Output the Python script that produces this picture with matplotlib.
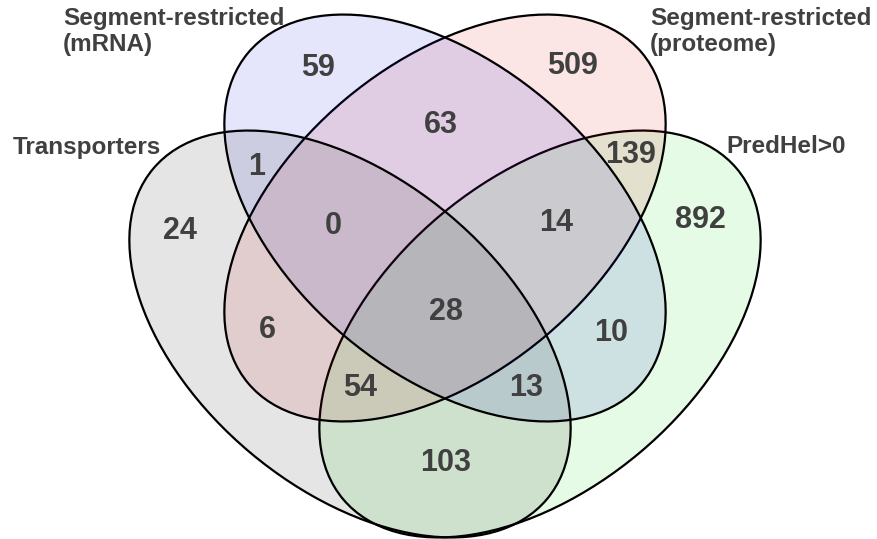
import matplotlib
matplotlib.use("Agg")

import matplotlib.pyplot as plt
from matplotlib.patches import Ellipse

# ── Data ──────────────────────────────────────────────────────────────────────
set_names = ["Transporters", "Segment-restricted\n(mRNA)",
             "Segment-restricted\n(proteome)", "PredHel>0"]

# region counts, keyed by membership (T, M, P, H)
region_keys = ["1000", "0100", "0010", "0001",
               "1100", "1010", "1001", "0110", "0101", "0011",
               "1110", "1101", "1011", "0111", "1111"]
region_counts = [24, 59, 509, 892,
                 1, 6, 103, 63, 10, 139,
                 0, 13, 54, 14, 28]

# ── Geometry (pixel space, y pointing down) ───────────────────────────────────
W, H = 878, 539
SEMI_MAJOR, SEMI_MINOR = 257, 155

ellipses = {
    # name: (center, angle, face rgba)
    "PredHel>0":    ((540, 334), -40, (0.0, 0.85, 0.0, 0.10)),
    "proteome":     ((445, 218), -40, (0.85, 0.0, 0.0, 0.10)),
    "mRNA":         ((445, 218),  40, (0.0, 0.0, 0.85, 0.10)),
    "Transporters": ((350, 334),  40, (0.0, 0.0, 0.0, 0.10)),
}

label_pos = {
    "1000": (180, 231), "0100": (318, 68), "0010": (573, 66), "0001": (700, 220),
    "1100": (257, 167), "1010": (267, 330), "1001": (446, 463),
    "0110": (441, 125), "0101": (611, 333), "0011": (631, 155),
    "1110": (333, 226), "1101": (526, 388), "1011": (360, 388),
    "0111": (556, 223), "1111": (446, 312),
}

TEXT = "#404040"

fig = plt.figure(figsize=(W / 100, H / 100), dpi=100)
ax = fig.add_axes([0, 0, 1, 1])
ax.set_xlim(0, W)
ax.set_ylim(H, 0)
ax.set_aspect("equal")
ax.axis("off")

for name, (center, angle, face) in ellipses.items():
    ax.add_patch(Ellipse(center, 2 * SEMI_MAJOR, 2 * SEMI_MINOR, angle=angle,
                         facecolor=face, edgecolor="black", linewidth=1.6))

for key, n in zip(region_keys, region_counts):
    x, y = label_pos[key]
    ax.text(x, y, str(n), ha="center", va="center", fontsize=22,
            fontweight="bold", color=TEXT, family="Liberation Sans")

# ── Set labels ────────────────────────────────────────────────────────────────
lab = dict(fontsize=17.5, fontweight="bold", color=TEXT,
           family="Liberation Sans", linespacing=1.15)
ax.text(63, 7, set_names[1], ha="left", va="top", **lab)
ax.text(650, 7, set_names[2], ha="left", va="top", **lab)
ax.text(13, 147, set_names[0], ha="left", va="center", **lab)
ax.text(726, 146, set_names[3], ha="left", va="center", **lab)

fig.savefig("out.png", dpi=100, facecolor="white")
